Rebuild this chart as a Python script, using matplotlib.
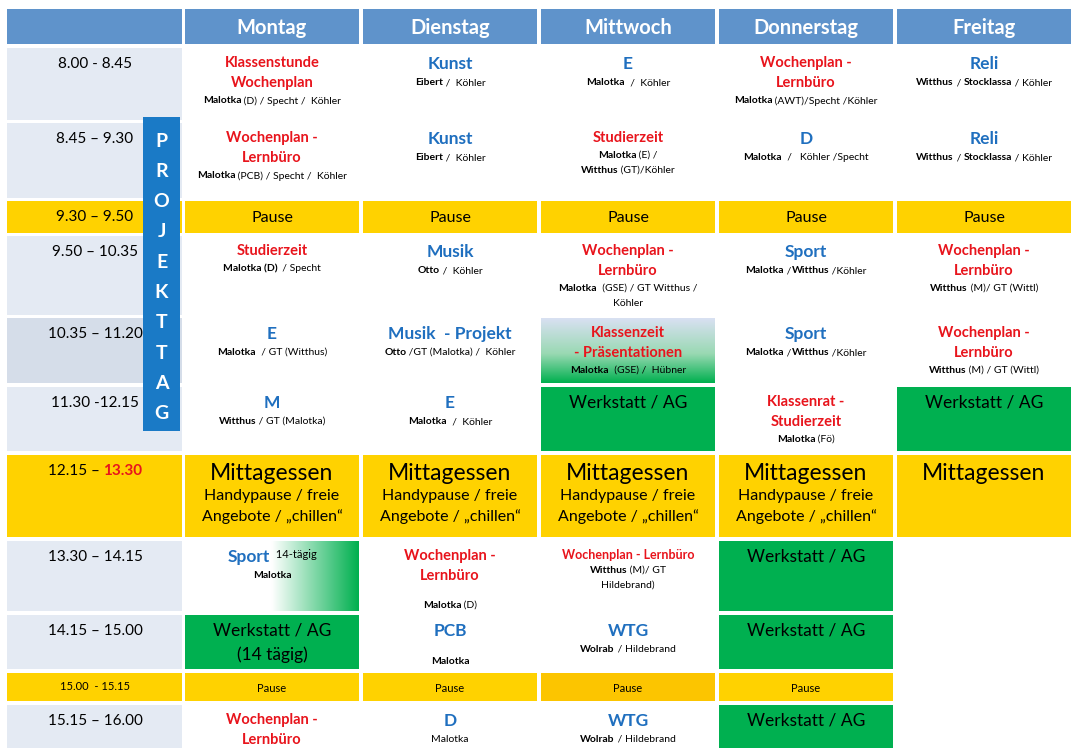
import matplotlib
matplotlib.use("Agg")
import matplotlib.pyplot as plt
import numpy as np
from matplotlib.patches import Rectangle
import re

FONT = "Lato"
days = ["Montag", "Dienstag", "Mittwoch", "Donnerstag", "Freitag"]
times = ["8.00 - 8.45", "8.45 – 9.30", "9.30 – 9.50", "9.50 – 10.35", "10.35 – 11.20",
         "11.30 -12.15", "12.15 – |13.30", "13.30 – 14.15", "14.15 – 15.00", "15.00  - 15.15", "15.15 – 16.00"]
row_kind = ["n", "n", "p", "n", "n2", "n", "l", "n", "n", "p2", "n"]
side_label = "PROJEKTTAG"

LUNCH = ["K:Mittagessen", "H:Handypause / freie", "H:Angebote / „chillen“"]
cells = {
 "Montag": [
  ["R:Klassenstunde", "R:Wochenplan", "T:**Malotka** (D) / Specht /  Köhler"],
  ["R:Wochenplan -", "R:Lernbüro", "T:**Malotka** (PCB) / Specht /  Köhler"],
  ["P:Pause"],
  ["R:Studierzeit", "T:**Malotka (D)**  / Specht"],
  ["B:E", "T:**Malotka**  / GT (Witthus)"],
  ["B:M", "T:**Witthus** / GT (Malotka)"],
  LUNCH,
  ["S:Sport", "T:**Malotka**"],
  ["G:Werkstatt / AG", "G:(14 tägig)"],
  ["Q:Pause"],
  ["R:Wochenplan -", "R:Lernbüro"]],
 "Dienstag": [
  ["B:Kunst", "T:**Eibert** /  Köhler"],
  ["B:Kunst", "T:**Eibert** /  Köhler"],
  ["P:Pause"],
  ["B:Musik", "T:**Otto** /  Köhler"],
  ["B:Musik  - Projekt", "T:**Otto** /GT (Malotka) /  Köhler"],
  ["B:E", "T:**Malotka**  /  Köhler"],
  LUNCH,
  ["R:Wochenplan -", "R:Lernbüro", "X:", "T:**Malotka** (D)"],
  ["B:PCB", "X:", "T:**Malotka**"],
  ["Q:Pause"],
  ["B:D", "T:Malotka"]],
 "Mittwoch": [
  ["B:E", "T:**Malotka**  /  Köhler"],
  ["R:Studierzeit", "T:**Malotka** (E) /", "T:**Witthus** (GT)/Köhler"],
  ["P:Pause"],
  ["R:Wochenplan -", "R:Lernbüro", "T:**Malotka**  (GSE) / GT Witthus /", "T:Köhler"],
  ["R:Klassenzeit", "R:- Präsentationen", "T:**Malotka**  (GSE) /  Hübner"],
  ["G:Werkstatt / AG"],
  LUNCH,
  ["r:Wochenplan - Lernbüro", "T:**Witthus** (M)/ GT", "T:Hildebrand)"],
  ["B:WTG", "T:**Wolrab** / Hildebrand"],
  ["Q:Pause"],
  ["B:WTG", "T:**Wolrab** / Hildebrand"]],
 "Donnerstag": [
  ["R:Wochenplan -", "R:Lernbüro", "T:**Malotka** (AWT)/Specht /Köhler"],
  ["B:D", "T:**Malotka**  /   Köhler /Specht"],
  ["P:Pause"],
  ["B:Sport", "T:**Malotka** /**Witthus** /Köhler"],
  ["B:Sport", "T:**Malotka** /**Witthus** /Köhler"],
  ["R:Klassenrat -", "R:Studierzeit", "T:**Malotka** (Fö)"],
  LUNCH,
  ["G:Werkstatt / AG"],
  ["G:Werkstatt / AG"],
  ["Q:Pause"],
  ["G:Werkstatt / AG"]],
 "Freitag": [
  ["B:Reli", "T:**Witthus** / **Stocklassa** / Köhler"],
  ["B:Reli", "T:**Witthus** / **Stocklassa** / Köhler"],
  ["P:Pause"],
  ["R:Wochenplan -", "R:Lernbüro", "T:**Witthus** (M)/ GT (Wittl)"],
  ["R:Wochenplan -", "R:Lernbüro", "T:**Witthus** (M) / GT (Wittl)"],
  ["G:Werkstatt / AG"],
  ["K:Mittagessen"],
  None, None, None, None],
}
green_cells = {("Mittwoch", 5), ("Donnerstag", 7), ("Donnerstag", 8), ("Donnerstag", 10),
               ("Freitag", 5), ("Montag", 8)}

# layout
col_x = [(7, 182), (185, 359), (363, 537), (541, 715), (719, 893), (897, 1071)]
row_y = [(48, 120), (123, 198), (201, 233), (236, 315), (318, 383), (387, 451),
         (455, 537), (541, 611), (615, 669), (673, 701), (705, 752)]
RED, BLUE, YEL, GRN = "#e8141c", "#1f6fbf", "#ffd200", "#00b050"
styles = {  # size, color, weight, line height, top pad
 "R": (10.5, RED, "bold", 20), "r": (9, RED, "bold", 17),
 "B": (12.5, BLUE, "bold", 22), "S": (12.5, BLUE, "bold", 22),
 "T": (7.5, "black", "normal", 15), "X": (7.5, "black", "normal", 12),
 "K": (16.5, "black", "normal", 26), "H": (11.5, "black", "normal", 20),
 "G": (12.5, "black", "normal", 24), "P": (11.5, "black", "normal", 20),
 "Q": (8, "black", "normal", 14)}

fig = plt.figure(figsize=(10.8, 7.48), dpi=100)
ax = fig.add_axes([0, 0, 1, 1])
ax.set_xlim(0, 1080); ax.set_ylim(748, 0); ax.axis("off")
ren = fig.canvas.get_renderer()

def rect(x0, x1, y0, y1, c):
    ax.add_patch(Rectangle((x0, y0), x1 - x0, y1 - y0, color=c, lw=0, zorder=1))

def seg_line(cx, y, segs):
    objs = []
    for txt, kw in segs:
        t = ax.text(0, y, txt, va="top", ha="left", family=FONT, zorder=5, **kw)
        objs.append(t)
    ws = [o.get_window_extent(ren).width for o in objs]
    x = cx - sum(ws) / 2
    for o, w in zip(objs, ws):
        o.set_x(x); x += w

# header
for i, (x0, x1) in enumerate(col_x):
    rect(x0, x1, 9, 44, "#5f93cb")
    if i:
        ax.text((x0 + x1) / 2, 28, days[i - 1], ha="center", va="center", color="white",
                fontsize=14.5, weight="bold", family=FONT, zorder=5)

# time column
for r, (y0, y1) in enumerate(row_y):
    k = row_kind[r]
    c = YEL if k in ("p", "l", "p2") else ("#d5dde9" if k == "n2" else "#e4eaf3")
    rect(*col_x[0], y0, y1, c)
    t = times[r]
    sz = 8 if k == "p2" else 11
    cy = (y0 + y1) / 2 if k in ("p", "p2") else y0 + 9
    va = "center" if k in ("p", "p2") else "top"
    if "|" in t:
        a, b = t.split("|")
        seg_line(95, y0 + 9, [(a, dict(fontsize=sz, color="black")),
                              (b, dict(fontsize=sz, color=RED, weight="bold"))])
    else:
        ax.text(95, cy, t, ha="center", va=va, fontsize=sz, family=FONT, zorder=5)

# cells
for ci, d in enumerate(days):
    x0, x1 = col_x[ci + 1]
    cx = (x0 + x1) / 2
    for r, (y0, y1) in enumerate(row_y):
        content = cells[d][r]
        if content is None:
            continue
        k = row_kind[r]
        if k in ("p", "l", "p2"):
            rect(x0, x1, y0, y1, "#fcc500" if (d == "Mittwoch" and k == "p2") else YEL)
        elif (d, r) in green_cells:
            rect(x0, x1, y0, y1, GRN)
        if d == "Mittwoch" and r == 4:
            g = np.linspace(0, 1, 100)[:, None]
            top, mid, bot = np.array([0.85, 0.88, 0.95]), np.array([0.6, 0.85, 0.7]), np.array([0.0, 0.69, 0.31])
            img = np.where(g < 0.5, top + (mid - top) * (g / 0.5)[..., None].squeeze(1)[:, None] if False else 0, 0)
            col = np.array([top + (mid - top) * min(v / 0.55, 1) if v < 0.55 else mid + (bot - mid) * (v - 0.55) / 0.45 for v in g[:, 0]])
            ax.imshow(col[:, None, :].repeat(2, 1), extent=(x0, x1, y1, y0), aspect="auto", zorder=1)
        if d == "Montag" and r == 7:
            g = np.linspace(0, 1, 200)
            a = np.clip((g - 0.5) / 0.5, 0, 1)
            col = np.array([[1 - a_ * 1.0, 1 - a_ * 0.31, 1 - a_ * 0.69] for a_ in a])
            ax.imshow(col[None, :, :].repeat(2, 0), extent=(x0, x1, y1, y0), aspect="auto", zorder=1)
        y = y0 + (8 if k not in ("p", "p2") else 0)
        if k in ("p", "p2"):
            s = styles[content[0][0]]
            ax.text(cx, (y0 + y1) / 2 + 1, content[0][2:], ha="center", va="center",
                    fontsize=s[0], family=FONT, zorder=5)
            continue
        if content[0][0] == "G":
            y = y0 + 7
        for line in content:
            key, txt = line[0], line[2:]
            sz, colr, wt, lh = styles[key]
            if key == "T":
                parts = re.split(r"(\*\*.*?\*\*)", txt)
                segs = [(p.strip("*"), dict(fontsize=sz, color="black",
                         weight="bold" if p.startswith("**") else "normal")) for p in parts if p]
                seg_line(cx, y, segs)
            elif key == "S":
                seg_line(cx, y, [(txt, dict(fontsize=sz, color=colr, weight=wt)),
                                 ("  14-tägig", dict(fontsize=8, color="black"))])
            elif txt:
                ax.text(cx, y, txt, ha="center", va="top", fontsize=sz, color=colr,
                        weight=wt, family=FONT, zorder=5)
            y += lh

# Projekttag bar
rect(143, 180, 117, 431, "#1a7ac6")
for i, ch in enumerate(side_label):
    ax.text(161.5, 141 + i * 30.3, ch, ha="center", va="center", color="white",
            fontsize=14, weight="bold", family=FONT, zorder=6)

fig.savefig("out.png", dpi=100)
